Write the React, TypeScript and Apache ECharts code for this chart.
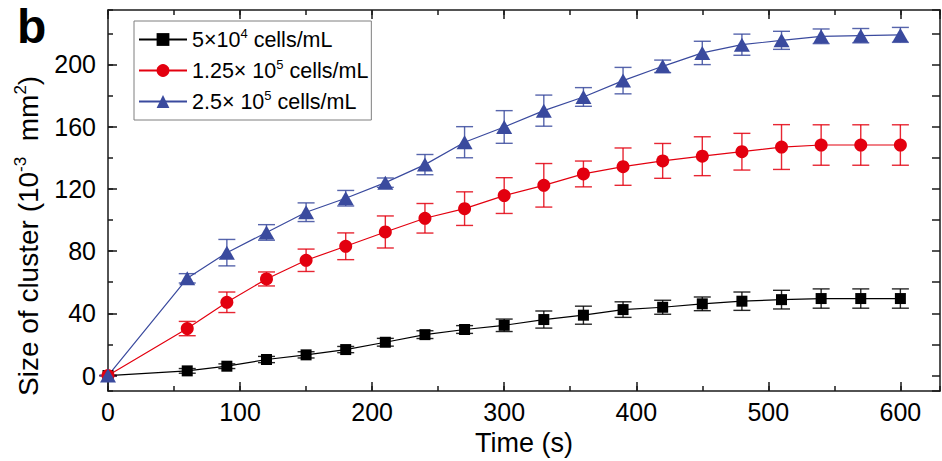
import React, { useEffect, useRef } from "react";
import * as echarts from "echarts";

const FONT = '"Liberation Sans", Arial, Helvetica, sans-serif';

const times = [0, 60, 90, 120, 150, 180, 210, 240, 270, 300, 330, 360, 390, 420, 450, 480, 510, 540, 570, 600];

const blackVals = [0, 3, 6, 10.3, 13.3, 16.7, 21.4, 26.3, 29.6, 32.3, 36, 38.8, 42.4, 43.9, 46.1, 47.8, 48.8, 49.5, 49.5, 49.5];
const blackErr = [0, 1.5, 1.5, 2, 2, 2, 2.5, 2.5, 2.5, 4, 5.5, 5.8, 5, 4.5, 4.4, 5.9, 6, 6.2, 6.2, 6.2];

const redVals = [0, 30.2, 47.1, 62.1, 74.1, 83.1, 92.3, 101.1, 107.3, 115.7, 122.3, 129.6, 134.3, 138, 141, 143.9, 146.9, 148.2, 148.2, 148.2];
const redErr = [0, 4.6, 6.6, 4.5, 7.2, 8.6, 10.3, 9.5, 10.8, 11.5, 14, 8.3, 12, 11.2, 12.5, 11.8, 14.4, 13, 13, 13];

const blueVals = [0, 62.5, 79, 92, 105, 114, 124, 135.6, 150, 159.8, 170.3, 179.1, 189.6, 198.8, 207.4, 212.7, 215.5, 218.1, 218.5, 219];
const blueErr = [0, 3, 8.5, 5, 6, 5, 3, 6.5, 10, 10.5, 10, 6, 8.5, 4, 7.5, 6.8, 5.8, 4.7, 4.6, 4.8];

const seriesNames = ["5×10⁴ cells/mL", "1.25× 10⁵ cells/mL", "2.5× 10⁵ cells/mL"];
const legendRich: Record<string, string> = {
  "5×10⁴ cells/mL": "5×10{sup|4} cells/mL",
  "1.25× 10⁵ cells/mL": "1.25× 10{sup|5} cells/mL",
  "2.5× 10⁵ cells/mL": "2.5× 10{sup|5} cells/mL",
};

const xTitle = "Time (s)";
const yTitle = "Size of cluster (10{sup|-3}  mm{sup|2})";

const xTickMajor = 100;
const xTickMinor = 50;
const yTickMajor = 40;
const yTickMinor = 20;

const X_MIN = 0;
const X_MAX = 630;
const Y_MIN = -10;
const Y_MAX = 235;

const BLACK = "#000000";
const RED = "#e3000f";
const BLUE = "#3a4a9e";
const AXIS = "#1a1a1a";

function errorSeries(vals: number[], errs: number[], color: string) {
  return {
    type: "custom",
    silent: true,
    z: 3,
    xAxisIndex: 0,
    yAxisIndex: 0,
    data: times.map((t, i) => [t, vals[i] - errs[i], vals[i] + errs[i]]),
    encode: { x: 0, y: [1, 2] },
    renderItem: (params: any, api: any) => {
      const x = api.value(0);
      const lo = api.coord([x, api.value(1)]);
      const hi = api.coord([x, api.value(2)]);
      const w = 8.5;
      const style = { stroke: color, lineWidth: 1.4, opacity: 0.85 };
      return {
        type: "group",
        children: [
          { type: "line", shape: { x1: lo[0], y1: lo[1], x2: hi[0], y2: hi[1] }, style },
          { type: "line", shape: { x1: lo[0] - w, y1: lo[1], x2: lo[0] + w, y2: lo[1] }, style },
          { type: "line", shape: { x1: hi[0] - w, y1: hi[1], x2: hi[0] + w, y2: hi[1] }, style },
        ],
      };
    },
  };
}

function lineSeries(name: string, vals: number[], color: string, symbol: string, size: any) {
  return {
    type: "line",
    name,
    xAxisIndex: 0,
    yAxisIndex: 0,
    z: 4,
    data: times.map((t, i) => [t, vals[i]]),
    symbol,
    symbolSize: size,
    showAllSymbol: true,
    lineStyle: { color, width: 1.2 },
    itemStyle: { color },
  };
}

const tickStyle = { color: AXIS, width: 1.5 };

export default function App() {
  const ref = useRef<HTMLDivElement>(null);
  useEffect(() => {
    if (!ref.current) return;
    const chart = echarts.init(ref.current, undefined, { renderer: "svg" });
    const option: any = {
      animation: false,
      backgroundColor: "#ffffff",
      textStyle: { fontFamily: FONT },
      grid: { left: 108, right: 2, top: 10, bottom: 69 },
      graphic: [
        {
          type: "text",
          left: 17,
          top: 2,
          style: { text: "b", font: `bold 48px ${FONT}`, fill: "#000" },
        },
        {
          type: "text",
          x: 28,
          y: 396,
          rotation: Math.PI / 2,
          style: {
            text: yTitle,
            fontSize: 28,
            fontFamily: FONT,
            fill: "#000",
            align: "left",
            verticalAlign: "middle",
            lineHeight: 33,
            rich: {
              sup: { fontSize: 17, verticalAlign: "top", lineHeight: 33, fontFamily: FONT, fill: "#000" },
            },
          },
        },
      ],
      legend: {
        orient: "vertical",
        left: 134,
        top: 21,
        data: seriesNames,
        borderColor: "#7f7f7f",
        borderWidth: 1,
        borderRadius: 0,
        padding: [6, 3, 6, 4],
        itemWidth: 48,
        itemHeight: 16,
        itemGap: 6,
        formatter: (name: string) => legendRich[name] || name,
        textStyle: {
          fontFamily: FONT,
          fontSize: 21.5,
          color: "#000",
          lineHeight: 25,
          rich: {
            sup: { fontSize: 13, verticalAlign: "top", lineHeight: 25, fontFamily: FONT, color: "#000" },
          },
        },
      },
      xAxis: [
        {
          type: "value",
          min: X_MIN,
          max: X_MAX,
          interval: xTickMajor,
          position: "bottom",
          axisLine: { show: true, onZero: false, lineStyle: tickStyle },
          axisTick: { inside: true, length: 9, lineStyle: tickStyle },
          axisLabel: { fontSize: 25, color: "#000", fontFamily: FONT, margin: 8, showMaxLabel: false },
          splitLine: { show: false },
          name: xTitle,
          nameLocation: "middle",
          nameGap: 35,
          nameTextStyle: { fontSize: 27, color: "#000", fontFamily: FONT },
        },
        {
          type: "value",
          min: X_MIN,
          max: X_MAX,
          interval: xTickMinor,
          position: "bottom",
          axisLine: { show: false, onZero: false },
          axisTick: { inside: true, length: 5, lineStyle: tickStyle },
          axisLabel: { show: false },
          splitLine: { show: false },
        },
        {
          type: "value",
          min: X_MIN,
          max: X_MAX,
          interval: xTickMajor,
          position: "top",
          axisLine: { show: true, onZero: false, lineStyle: tickStyle },
          axisTick: { inside: true, length: 9, lineStyle: tickStyle },
          axisLabel: { show: false },
          splitLine: { show: false },
        },
        {
          type: "value",
          min: X_MIN,
          max: X_MAX,
          interval: xTickMinor,
          position: "top",
          axisLine: { show: false, onZero: false },
          axisTick: { inside: true, length: 5, lineStyle: tickStyle },
          axisLabel: { show: false },
          splitLine: { show: false },
        },
      ],
      yAxis: [
        {
          type: "value",
          min: Y_MIN,
          max: Y_MAX,
          minInterval: yTickMajor,
          maxInterval: yTickMajor,
          position: "left",
          axisLine: { show: true, onZero: false, lineStyle: tickStyle },
          axisTick: { inside: true, length: 9, lineStyle: tickStyle },
          axisLabel: {
            fontSize: 25,
            color: "#000",
            fontFamily: FONT,
            margin: 12,
            showMinLabel: false,
            showMaxLabel: false,
          },
          splitLine: { show: false },
        },
        {
          type: "value",
          min: Y_MIN,
          max: Y_MAX,
          minInterval: yTickMinor,
          maxInterval: yTickMinor,
          position: "left",
          axisLine: { show: false, onZero: false },
          axisTick: { inside: true, length: 5, lineStyle: tickStyle },
          axisLabel: { show: false },
          splitLine: { show: false },
        },
        {
          type: "value",
          min: Y_MIN,
          max: Y_MAX,
          minInterval: yTickMinor,
          maxInterval: yTickMinor,
          position: "right",
          axisLine: { show: true, onZero: false, lineStyle: tickStyle },
          axisTick: { inside: true, length: 8, lineStyle: tickStyle },
          axisLabel: { show: false },
          splitLine: { show: false },
        },
      ],
      series: [
        errorSeries(blackVals, blackErr, BLACK),
        errorSeries(redVals, redErr, RED),
        errorSeries(blueVals, blueErr, BLUE),
        lineSeries(seriesNames[0], blackVals, BLACK, "rect", 11),
        lineSeries(seriesNames[1], redVals, RED, "circle", 13),
        lineSeries(seriesNames[2], blueVals, BLUE, "triangle", [16, 14]),
      ],
    };
    chart.setOption(option);
    return () => chart.dispose();
  }, []);
  return (
    <div
      ref={ref}
      style={{ position: "fixed", left: 0, top: 0, width: 942, height: 461, background: "#fff" }}
    />
  );
}
